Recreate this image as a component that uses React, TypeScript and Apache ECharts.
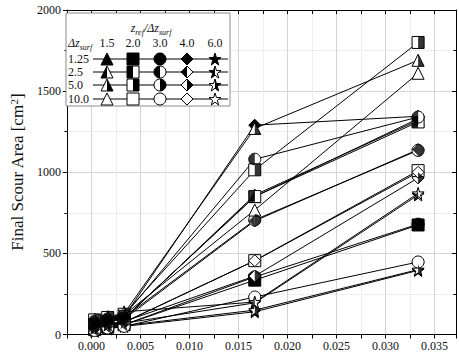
import React, { useEffect, useRef } from 'react';
import * as echarts from 'echarts';

// ---------- data ----------
const xValues = [0.000333, 0.001667, 0.003333, 0.016667, 0.033333];
const ratioLabels = ['1.5', '2.0', '3.0', '4.0', '6.0'];
const dzLabels = ['1.25', '2.5', '5.0', '10.0'];
const yTicks = [0, 500, 1000, 1500, 2000];

// Δz_surf = 1.25
const tri125 = [60, 85, 100, 850, 1330];
const sq125 = [30, 45, 60, 335, 675];
const cir125 = [30, 50, 60, 355, 680];
const dia125 = [90, 100, 110, 1290, 1345];
const star125 = [20, 35, 50, 140, 395];
// Δz_surf = 2.5
const tri25 = [55, 80, 95, 860, 1320];
const sq25 = [65, 85, 100, 850, 1310];
const cir25 = [85, 100, 115, 1080, 1340];
const dia25 = [60, 80, 95, 700, 1140];
const star25 = [35, 55, 70, 195, 860];
// Δz_surf = 5.0
const tri50 = [95, 110, 130, 1270, 1690];
const sq50 = [90, 105, 125, 1015, 1800];
const cir50 = [70, 90, 105, 706, 1135];
const dia50 = [45, 65, 80, 360, 965];
const star50 = [25, 40, 55, 150, 400];
// Δz_surf = 10.0
const tri100 = [80, 100, 120, 767, 1610];
const sq100 = [40, 60, 75, 455, 1010];
const cir100 = [25, 40, 50, 231, 447];
const dia100 = [40, 60, 75, 455, 1000];
const star100 = [40, 60, 140, 200, 870];

const table = [
  [tri125, sq125, cir125, dia125, star125],
  [tri25, sq25, cir25, dia25, star25],
  [tri50, sq50, cir50, dia50, star50],
  [tri100, sq100, cir100, dia100, star100],
];
const fillModes = ['full', 'left', 'right', 'empty'];

// ---------- marker geometry ----------
type Pt = [number, number];
const FONT = 'Liberation Serif, Times New Roman, serif';

const arcPts = (a0: number, a1: number, n: number): Pt[] => {
  const out: Pt[] = [];
  for (let i = 0; i <= n; i++) {
    const a = a0 + ((a1 - a0) * i) / n;
    out.push([10 + 10 * Math.cos(a), 10 + 10 * Math.sin(a)]);
  }
  return out;
};
const starPts: Pt[] = Array.from({ length: 10 }, (_, k) => {
  const a = -Math.PI / 2 + (k * Math.PI) / 5;
  const r = k % 2 === 0 ? 10 : 3.9;
  return [10 + r * Math.cos(a), 10 + r * Math.sin(a)] as Pt;
});

const SHAPES: Record<string, { full: Pt[]; left: Pt[]; right: Pt[] }> = {
  triangle: {
    full: [[10, 0], [20, 20], [0, 20]],
    left: [[10, 0], [10, 20], [0, 20]],
    right: [[10, 0], [20, 20], [10, 20]],
  },
  rect: {
    full: [[0, 0], [20, 0], [20, 20], [0, 20]],
    left: [[0, 0], [10, 0], [10, 20], [0, 20]],
    right: [[10, 0], [20, 0], [20, 20], [10, 20]],
  },
  circle: {
    full: arcPts(0, 2 * Math.PI, 36).slice(0, 36),
    left: arcPts(Math.PI / 2, (3 * Math.PI) / 2, 18),
    right: arcPts(-Math.PI / 2, Math.PI / 2, 18),
  },
  diamond: {
    full: [[10, 0], [20, 10], [10, 20], [0, 10]],
    left: [[10, 0], [10, 20], [0, 10]],
    right: [[10, 0], [20, 10], [10, 20]],
  },
  star: {
    full: starPts,
    left: [0, 9, 8, 7, 6, 5].map((i) => starPts[i]),
    right: [0, 1, 2, 3, 4, 5].map((i) => starPts[i]),
  },
};
const shapeKeys = ['triangle', 'rect', 'circle', 'diamond', 'star'];

const bbox = (pts: Pt[]) => {
  const xs = pts.map((p) => p[0]);
  const ys = pts.map((p) => p[1]);
  return { x0: Math.min(...xs), y0: Math.min(...ys), x1: Math.max(...xs), y1: Math.max(...ys) };
};
const toPath = (pts: Pt[]) =>
  'M' + pts.map((p) => p[0].toFixed(3) + ' ' + p[1].toFixed(3)).join(' L') + ' Z';
const fullSymbol = (key: string) => 'path://' + toPath(SHAPES[key].full);
const halfSymbol = (key: string, side: 'left' | 'right') => {
  const b = bbox(SHAPES[key].full);
  const e = 0.01;
  const anchors =
    ` M${b.x0} ${b.y0} L${b.x0 + e} ${b.y0} L${b.x0} ${b.y0 + e} Z` +
    ` M${b.x1} ${b.y1} L${b.x1 - e} ${b.y1} L${b.x1} ${b.y1 - e} Z`;
  return 'path://' + toPath(SHAPES[key][side]) + anchors;
};

// ---------- legend graphics ----------
const mapPts = (pts: Pt[], key: string, cx: number, cy: number, s: number): number[][] => {
  const b = bbox(SHAPES[key].full);
  return pts.map(([x, y]) => [
    cx - s / 2 + ((x - b.x0) / (b.x1 - b.x0)) * s,
    cy - s / 2 + ((y - b.y0) / (b.y1 - b.y0)) * s,
  ]);
};

function buildLegend() {
  const els: any[] = [];
  const boxX = 66, boxY = 13, boxW = 164, boxH = 93;
  els.push({
    type: 'rect',
    shape: { x: boxX, y: boxY, width: boxW, height: boxH },
    style: { fill: '#fff', stroke: '#8a8a8a', lineWidth: 1 },
    z: 100,
  });
  const rich = {
    i: { fontSize: 12, lineHeight: 16, fontStyle: 'italic', fontFamily: FONT, fill: '#111' },
    s: { fontSize: 8, verticalAlign: 'bottom', fontStyle: 'italic', fontFamily: FONT, fill: '#111' },
  };
  els.push({
    type: 'text', x: 151, y: 28, z: 101,
    style: { text: '{i|z}{s|ref}{i|/Δz}{s|surf}', rich, align: 'center', verticalAlign: 'middle' },
  });
  els.push({
    type: 'text', x: 68, y: 43, z: 101,
    style: { text: '{i|Δz}{s|surf}', rich, align: 'left', verticalAlign: 'middle' },
  });
  const colX = [107, 133, 160, 187, 215];
  const rowY = [59, 72, 85, 99];
  ratioLabels.forEach((lab, c) => {
    els.push({
      type: 'text', x: colX[c], y: 43, z: 101,
      style: { text: lab, fontSize: 12, fontFamily: FONT, fill: '#111', align: 'center', verticalAlign: 'middle' },
    });
  });
  dzLabels.forEach((lab, r) => {
    const y = rowY[r];
    els.push({
      type: 'text', x: 68, y, z: 101,
      style: { text: lab, fontSize: 12, fontFamily: FONT, fill: '#111', align: 'left', verticalAlign: 'middle' },
    });
    els.push({
      type: 'line', z: 101,
      shape: { x1: 93, y1: y, x2: 228, y2: y },
      style: { stroke: '#000', lineWidth: 1 },
    });
    shapeKeys.forEach((key, c) => {
      const mode = fillModes[r];
      const s = 12;
      els.push({
        type: 'polygon', z: 102,
        shape: { points: mapPts(SHAPES[key].full, key, colX[c], y, s) },
        style: { fill: mode === 'full' ? '#000' : '#fff', stroke: '#000', lineWidth: 1 },
      });
      if (mode === 'left' || mode === 'right') {
        els.push({
          type: 'polygon', z: 103,
          shape: { points: mapPts(SHAPES[key][mode], key, colX[c], y, s) },
          style: { fill: '#000' },
        });
      }
    });
  });
  return els;
}

// ---------- option ----------
function buildOption() {
  const series: any[] = [];
  const overlays: any[] = [];
  table.forEach((row, r) => {
    row.forEach((vals, c) => {
      const key = shapeKeys[c];
      const mode = fillModes[r];
      const data = xValues.map((x, i) => [x, vals[i]]);
      series.push({
        type: 'line',
        name: `dz${dzLabels[r]}-r${ratioLabels[c]}`,
        data,
        symbol: fullSymbol(key),
        symbolSize: 12,
        showSymbol: true,
        itemStyle: { color: mode === 'full' ? '#000' : '#fff', borderColor: '#000', borderWidth: 1 },
        lineStyle: { color: '#000', width: 1 },
        emphasis: { disabled: true },
        z: 3,
      });
      if (mode === 'left' || mode === 'right') {
        overlays.push({
          type: 'scatter',
          data,
          symbol: halfSymbol(key, mode as 'left' | 'right'),
          symbolSize: 12,
          itemStyle: { color: '#000' },
          emphasis: { disabled: true },
          silent: true,
          z: 4,
        });
      }
    });
  });

  const XMIN = -0.0025;
  const XMAX = 0.0372;
  const axisLineStyle = { color: '#000', width: 1 };
  const labelStyle = { fontFamily: FONT, fontSize: 12, color: '#111' };

  return {
    animation: false,
    backgroundColor: '#fff',
    textStyle: { fontFamily: FONT },
    grid: { left: 62, top: 10, width: 396, height: 324.5 },
    xAxis: [
      {
        type: 'value', position: 'bottom', min: XMIN, max: XMAX, interval: 0.0025,
        axisLine: { show: true, onZero: false, lineStyle: axisLineStyle },
        axisTick: { show: true, inside: false, length: 4, lineStyle: axisLineStyle },
        axisLabel: {
          ...labelStyle, margin: 5,
          formatter: (v: number) => {
            if (v < -1e-9 || v > 0.0355) return '';
            const k = v / 0.005;
            if (Math.abs(k - Math.round(k)) > 1e-6) return '';
            return Math.abs(v) < 1e-9 ? '0.000' : v.toFixed(3);
          },
        },
        splitLine: { show: true, lineStyle: { color: ['#eeeeee', '#d4d4d4'], width: 1 } },
      },
      {
        type: 'value', position: 'top', min: XMIN, max: XMAX, interval: 0.0025,
        axisLine: { show: true, onZero: false, lineStyle: axisLineStyle },
        axisTick: { show: true, inside: true, length: 4, lineStyle: axisLineStyle },
        axisLabel: { show: false },
        splitLine: { show: false },
      },
    ],
    yAxis: [
      {
        type: 'value', position: 'left', min: yTicks[0], max: yTicks[yTicks.length - 1], interval: 500,
        axisLine: { show: true, onZero: false, lineStyle: axisLineStyle },
        axisTick: { show: true, inside: false, length: 4, lineStyle: axisLineStyle },
        minorTick: { show: true, splitNumber: 2, length: 2.5, lineStyle: axisLineStyle },
        axisLabel: { ...labelStyle, margin: 6, formatter: (v: number) => String(Math.round(v)) },
        splitLine: { show: true, lineStyle: { color: '#d4d4d4', width: 1 } },
        minorSplitLine: { show: true, lineStyle: { color: '#dddddd', width: 1, type: 'dotted' } },
        name: '{a|Final Scour Area [cm}{b|2}{a|]}',
        nameLocation: 'middle',
        nameGap: 32,
        nameTextStyle: {
          fontFamily: FONT, color: '#111',
          rich: {
            a: { fontFamily: FONT, fontSize: 17, lineHeight: 19, color: '#111' },
            b: { fontFamily: FONT, fontSize: 11, verticalAlign: 'top', color: '#111' },
          },
        },
      },
      {
        type: 'value', position: 'right', min: yTicks[0], max: yTicks[yTicks.length - 1], interval: 500,
        axisLine: { show: true, onZero: false, lineStyle: axisLineStyle },
        axisTick: { show: true, inside: true, length: 4, lineStyle: axisLineStyle },
        minorTick: { show: true, splitNumber: 2, length: 2.5, lineStyle: axisLineStyle },
        axisLabel: { show: false },
        splitLine: { show: false },
      },
    ],
    series: [...series, ...overlays],
    graphic: buildLegend(),
  };
}

export default function App() {
  const ref = useRef<HTMLDivElement>(null);
  useEffect(() => {
    document.body.style.margin = '0';
    const chart = echarts.init(ref.current as HTMLDivElement, undefined, { renderer: 'svg' });
    chart.setOption(buildOption() as any);
    return () => chart.dispose();
  }, []);
  return <div ref={ref} style={{ width: 459, height: 356 }} />;
}
